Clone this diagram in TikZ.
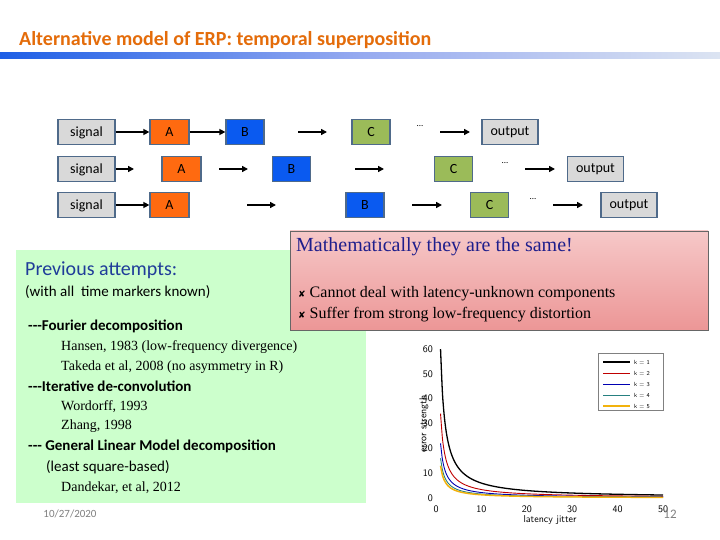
\documentclass[tikz,border=0pt]{standalone}
\usepackage{fontspec}
\setmainfont{Liberation Serif}
\newfontfamily\carl{Carlito}
\newfontfamily\dvs{DejaVu Sans}
\usetikzlibrary{arrows.meta}
\definecolor{ttl}{HTML}{E46C0A}
\definecolor{bord}{HTML}{4F6A8A}
\definecolor{sg}{HTML}{D9D9D9}
\definecolor{ca}{HTML}{FF6A10}
\definecolor{cb}{HTML}{0A5AF0}
\definecolor{cc}{HTML}{9BBB59}
\definecolor{grn}{HTML}{CCFFCC}
\definecolor{dblue}{HTML}{1F3C99}
\tikzset{
 bx/.style={draw=bord,line width=1.3pt,minimum height=25pt,inner sep=0pt,font=\carl\fontsize{14}{14}\selectfont},
 sigbox/.style={bx,fill=sg,minimum width=57pt,text depth=0pt},
 boxa/.style={bx,fill=ca,minimum width=39pt},
 boxb/.style={bx,fill=cb,minimum width=38pt},
 boxc/.style={bx,fill=cc,minimum width=38pt},
 outbox/.style={bx,fill=sg,minimum width=56pt},
 arr/.style={-{Triangle[length=6pt,width=6pt]},line width=1.6pt},
 dots/.style={font=\carl\small,inner sep=0pt},
 gtext/.style={anchor=west,inner sep=0pt,font=\fontsize{14}{14}\selectfont},
 gbold/.style={anchor=west,inner sep=0pt,font=\carl\bfseries\fontsize{15}{15}\selectfont},
 ticklab/.style={font=\sffamily\fontsize{10}{10}\selectfont,inner sep=1pt}
}
\begin{document}
\begin{tikzpicture}[x=1pt,y=-1pt]
\useasboundingbox (0,0) rectangle (720,540);
\fill[white] (0,0) rectangle (720,540);
\node[anchor=west,text=ttl,font=\carl\bfseries\fontsize{20}{20}\selectfont,inner sep=0pt] (title) at (19,40) {Alternative model of ERP: temporal superposition};
\shade[left color={rgb,255:red,30;green,95;blue,230},right color={rgb,255:red,220;green,228;blue,242},middle color={rgb,255:red,150;green,170;blue,240}] (0,53) rectangle (720,59);
% row 1
\node[sigbox] (s1) at (86.5,132) {signal};
\node[boxa] (a1) at (169.5,132) {A};
\node[boxb] (b1) at (245,132) {B};
\coordinate (p1) at (298,132); \coordinate (q1) at (327,132);
\node[boxc] (c1) at (371,132) {C};
\node[dots] (d1) at (420,126) {...};
\coordinate (p2) at (440,132); \coordinate (q2) at (470,132);
\node[outbox] (o1) at (510,132) {output};
\draw[arr] (s1) -- (a1); \draw[arr] (a1) -- (b1); \draw[arr] (p1) -- (q1); \draw[arr] (p2) -- (q2);
% row 2
\node[sigbox] (s2) at (86.5,169) {signal};
\node[boxa] (a2) at (181.5,169) {A};
\coordinate (p3) at (219,169); \coordinate (q3) at (248,169);
\node[boxb] (b2) at (291.5,169) {B};
\coordinate (p4) at (355,169); \coordinate (q4) at (384,169);
\node[boxc] (c2) at (453.5,169) {C};
\node[dots] (d2) at (505,163) {...};
\coordinate (p5) at (525,169); \coordinate (q5) at (555,169);
\node[outbox] (o2) at (595.5,169) {output};
\coordinate (q6) at (134,169);
\draw[arr] (s2) -- (q6); \draw[arr] (p3) -- (q3); \draw[arr] (p4) -- (q4); \draw[arr] (p5) -- (q5);
% row 3
\node[sigbox] (s3) at (86.5,205) {signal};
\node[boxa] (a3) at (169.5,205) {A};
\coordinate (p7) at (247,205); \coordinate (q7) at (276,205);
\node[boxb] (b3) at (365,205) {B};
\coordinate (p8) at (412,205); \coordinate (q8) at (442,205);
\node[boxc] (c3) at (489.5,205) {C};
\node[dots] (d3) at (533,199) {...};
\coordinate (p9) at (553,205); \coordinate (q9) at (583,205);
\node[outbox] (o3) at (629,205) {output};
\draw[arr] (s3) -- (a3); \draw[arr] (p7) -- (q7); \draw[arr] (p8) -- (q8); \draw[arr] (p9) -- (q9);
% green box
\fill[grn] (16,250) rectangle (366,503);
\node[anchor=west,inner sep=0pt,text=dblue,font=\carl\fontsize{20}{20}\selectfont] (pa) at (25,270) {Previous attempts:};
\node[anchor=west,inner sep=0pt,font=\carl\fontsize{15}{15}\selectfont] (wa) at (25,292) {(with all\ \ time markers known)};
\node[gbold] (g1) at (28,326) {---Fourier decomposition};
\node[gtext] (g2) at (61,347) {Hansen, 1983 (low-frequency divergence)};
\node[gtext] (g3) at (61,367) {Takeda et al, 2008 (no asymmetry in R)};
\node[gbold] (g4) at (28,386) {---Iterative de-convolution};
\node[gtext] (g5) at (61,407) {Wordorff, 1993};
\node[gtext] (g6) at (61,426) {Zhang, 1998};
\node[gbold] (g7) at (28,446) {--- General Linear Model decomposition};
\node[anchor=west,inner sep=0pt,font=\carl\fontsize{15}{15}\selectfont] (g8) at (46,467) {(least square-based)};
\node[gtext] (g9) at (61,488) {Dandekar, et al, 2012};
% red box
\shade[top color={rgb,255:red,246;green,200;blue,200},bottom color={rgb,255:red,236;green,150;blue,150},draw=gray!80!black] (290,231) rectangle (708,330);
\node[anchor=west,inner sep=0pt,text={rgb,255:red,30;green,30;blue,140},font=\fontsize{20}{20}\selectfont] (mt) at (296,247) {Mathematically they are the same!};
\node[anchor=west,inner sep=0pt,font=\fontsize{16}{16}\selectfont] (r1) at (298,294) {{\dvs\small ✘} Cannot deal with latency-unknown components};
\node[anchor=west,inner sep=0pt,font=\fontsize{16}{16}\selectfont] (r2) at (298,315) {{\dvs\small ✘} Suffer from strong low-frequency distortion};
% plot
\foreach \v/\yy in {0/498,10/473.2,20/448.3,30/423.5,40/398.7,50/373.8,60/349}{
 \node[ticklab,anchor=east] at (434,\yy) {\v};}
\foreach \v in {0,10,20,30,40,50}{
 \node[ticklab,anchor=north] at ({436+4.54*\v},505) {\v};}
\node[ticklab,rotate=90] (yl) at (424,424) {error strength};
\node[ticklab] (xl) at (550,520) {latency jitter};
\foreach \a/\c/\w in {60/black/1.3pt,34/red!75!black/0.9pt,22/blue!70!black/0.9pt,16/teal!70!gray/0.9pt,13/orange!50!yellow!80!brown/1.5pt}{
 \draw[\c,line width=\w] plot[domain=1:50,samples=120,smooth] ({436+4.54*\x},{498-2.483*\a/\x});}
\draw[gray,line width=0.4pt] (598,353) rectangle (663,410);
\foreach \i/\c/\w in {1/black/1.5pt,2/red!75!black/0.8pt,3/blue!70!black/0.8pt,4/teal!70!gray/0.8pt,5/orange!50!yellow!80!brown/1.5pt}{
 \draw[\c,line width=\w] (603,{351+11*\i}) -- (630,{351+11*\i});
 \node[font=\sffamily\fontsize{6}{6}\selectfont,anchor=west,inner sep=0pt] at (634,{351+11*\i}) {k = \i};}
% footer
\node[text=gray,font=\carl\fontsize{11}{11}\selectfont] (dt) at (70,514) {10/27/2020};
\node[text=gray,font=\carl\fontsize{13}{13}\selectfont] (pg) at (670,514) {12};
\end{tikzpicture}
\end{document}
